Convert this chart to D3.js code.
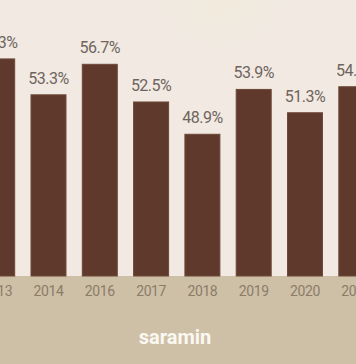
<!DOCTYPE html>
<html><head><meta charset="utf-8">
<script src="https://cdn.jsdelivr.net/npm/d3@7"></script>
<style>html,body{margin:0;padding:0;background:#f1e9e2;overflow:hidden}</style>
</head><body>
<svg id="c" width="356" height="364"></svg>
<script>
const categories = ['2013','2014','2016','2017','2018','2019','2020','2021'];
const values = [57.3, 53.3, 56.7, 52.5, 48.9, 53.9, 51.3, 54.2];
const labels = ['57.3%','53.3%','56.7%','52.5%','48.9%','53.9%','51.3%','54.2%'];

const svg = d3.select('#c');
const W = 356, H = 364, base = 276;
const defs = svg.append('defs');
const rg = defs.append('radialGradient').attr('id','glow').attr('cx','0.62').attr('cy','0').attr('r','0.3');
rg.append('stop').attr('offset','0').attr('stop-color','#f2ebdc');
rg.append('stop').attr('offset','1').attr('stop-color','#f1e9e2').attr('stop-opacity',0);
svg.append('rect').attr('width',W).attr('height',base).attr('fill','#f1e9e2');
svg.append('rect').attr('width',W).attr('height',base).attr('fill','url(#glow)');
svg.append('rect').attr('y',base).attr('width',W).attr('height',H-base).attr('fill','#cec0a7');

const x = d3.scaleBand().domain(categories).range([-20.3, 373.8]).paddingInner(0.318).paddingOuter(0);
const y = d3.scaleLinear().domain([33.1, 60]).range([base, base - 26.9*8.97]);

svg.append('g').selectAll('rect').data(values).join('rect')
  .attr('x',(d,i)=>x(categories[i])).attr('width',x.bandwidth())
  .attr('y',d=>y(d)).attr('height',d=>base-y(d))
  .attr('fill','#5f3a2c').attr('stroke','#6e4838').attr('stroke-width',1);

svg.append('g').selectAll('text').data(values).join('text')
  .attr('x',(d,i)=>x(categories[i])+x.bandwidth()/2).attr('y',d=>y(d)-11)
  .attr('text-anchor','middle').attr('font-family','Roboto, sans-serif').attr('font-size',16)
  .attr('letter-spacing','-0.5').attr('fill','#6f655e').text((d,i)=>labels[i]);

const ax = svg.append('g').attr('transform',`translate(0,${base})`)
  .call(d3.axisBottom(x).tickSize(0).tickPadding(10));
ax.select('.domain').remove();
ax.selectAll('text').attr('font-family','Roboto, sans-serif').attr('font-size',14)
  .attr('letter-spacing','-0.4').attr('fill','#8b7c67');

svg.append('text').attr('x',175).attr('y',344).attr('text-anchor','middle')
  .attr('font-family','Roboto, sans-serif').attr('font-weight','bold').attr('font-size',20)
  .attr('fill','#fbf8f2').text('saramin');
</script>
</body></html>
